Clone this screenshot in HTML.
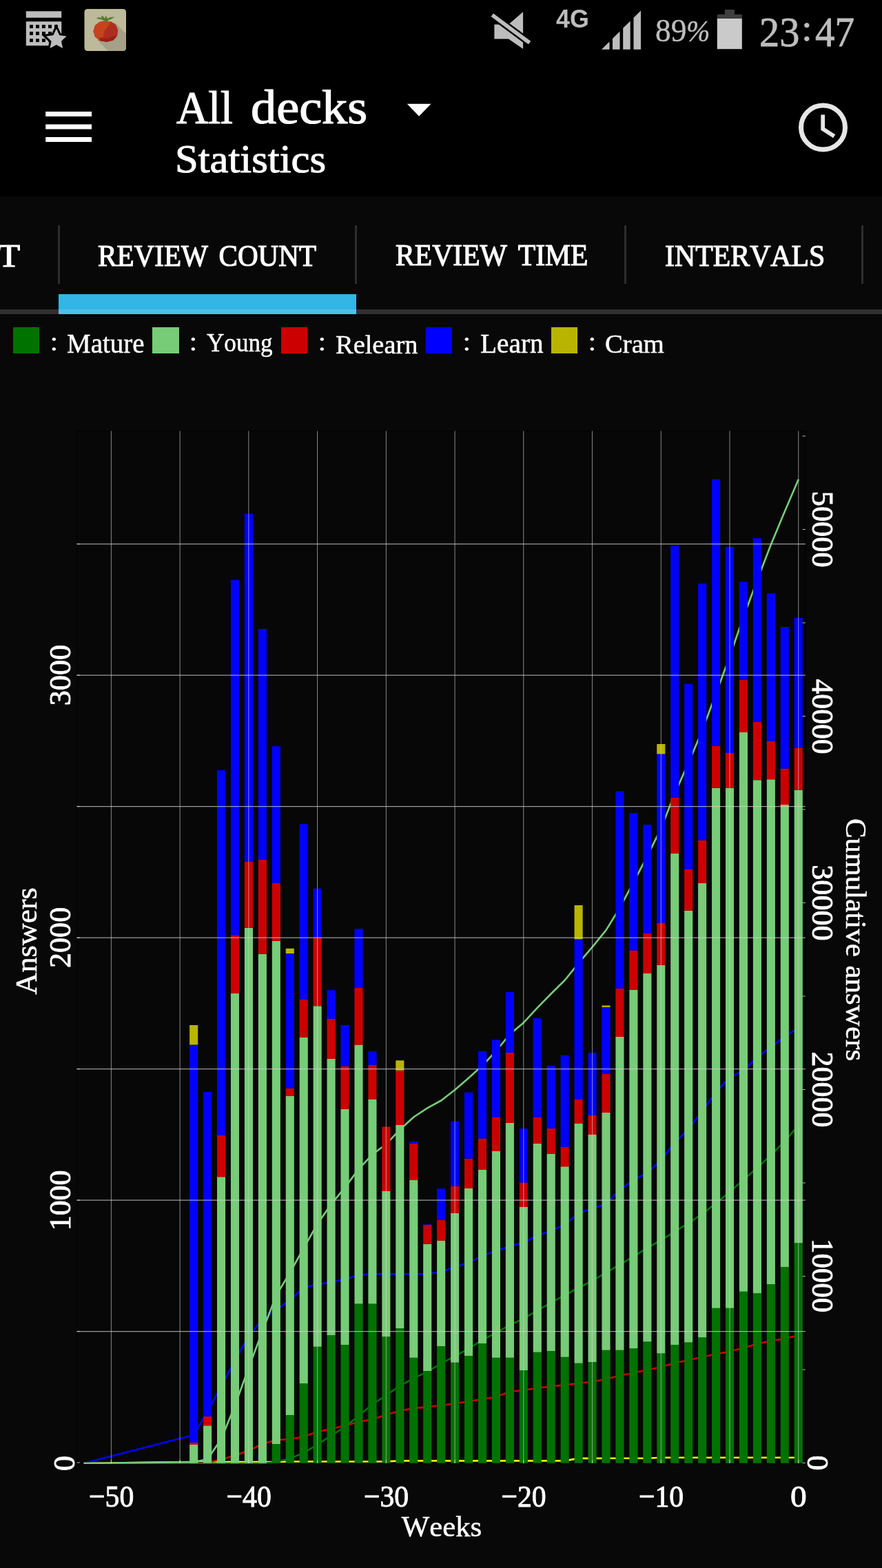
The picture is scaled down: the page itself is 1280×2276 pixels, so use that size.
<!DOCTYPE html>
<html lang="en">
<head>
<meta charset="utf-8">
<meta name="viewport" content="width=1280">
<title>AnkiDroid - Statistics - Review count</title>
<style>
*{margin:0;padding:0;box-sizing:border-box}
html,body{width:1280px;height:2276px;background:#080808;overflow:hidden}
body{position:relative;font-family:"Liberation Serif",serif;font-size:16px;color:#fff;font-kerning:none;font-variant-ligatures:none}
.t{position:absolute;line-height:1;white-space:pre;transform-origin:0 0;display:block}
.status{position:absolute;left:0;top:0;width:1280px;height:96px;background:#000}
.appbar{position:absolute;left:0;top:0;width:1280px;height:285px;background:#000}
.status{background:transparent;z-index:2}
.ico{position:absolute;left:0;top:0;display:block}
.appbar .ico{top:96px}
.tabs{position:absolute;left:0;top:0;width:1280px;height:456px;overflow:hidden}
.tabs .sep{position:absolute;top:327px;width:3px;height:85px;background:#2d2d2d}
.tabs .line{position:absolute;left:0;top:449px;width:1280px;height:7px;background:#303030}
.tabs .ind{position:absolute;left:85px;top:427px;width:432px;height:29px;background:linear-gradient(#33b5e5 0,#33b5e5 22px,#50bfe8 22px)}
.legend{position:absolute;left:0;top:0;width:1280px;height:0;list-style:none}
h1,h2{font:inherit}
.legend .sw{position:absolute;top:474.5px;width:38.3px;height:38.5px}
.chart{position:absolute;left:0;top:600px;display:block}
</style>
</head>
<body>
<nav class="tabs">
<i class="sep" style="left:84px"></i>
<i class="sep" style="left:515px"></i>
<i class="sep" style="left:906.2px"></i>
<i class="sep" style="left:1250px"></i>
<i class="line"></i><i class="ind"></i>
<span class="t" style="left:-239.92px;top:348.62px;font-size:45.54px;transform:scaleX(1.1561);-webkit-text-stroke:1.2px #fff">FORECAST</span>
<span class="t" style="left:142.42px;top:348.68px;font-size:45.18px;transform:scaleX(0.9102);word-spacing:0.13em;-webkit-text-stroke:1.2px #fff">REVIEW COUNT</span>
<span class="t" style="left:573.9px;top:348.34px;font-size:45.23px;transform:scaleX(0.921);word-spacing:0.13em;-webkit-text-stroke:1.2px #fff">REVIEW TIME</span>
<span class="t" style="left:964.59px;top:348.68px;font-size:45.18px;transform:scaleX(0.9259);-webkit-text-stroke:1.2px #fff">INTERVALS</span>
</nav>
<div class="appbar">
<svg class="ico" width="1280" height="188" viewBox="0 96 1280 188">
<path d="M66.2 162h66.8v7h-66.8z M66.2 180.5h66.8v7h-66.8z M66.2 199h66.8v7h-66.8z" fill="#fff"/>
<path d="M590.8 150.8h34.7l-17.35 18z" fill="#fff"/>
<circle cx="1194.5" cy="185" r="32" fill="none" stroke="#e6e6e6" stroke-width="7"/>
<path d="M1194.2 166.5v20.7l16.5 10.5" fill="none" stroke="#e6e6e6" stroke-width="5.8" stroke-linejoin="miter"/>
</svg>
<h1 class="title"><span class="t" style="left:256.27px;top:122.27px;font-size:68.46px;transform:scaleX(0.9363);-webkit-text-stroke:1.2px #fff">All</span> <span class="t" style="left:363.92px;top:121.32px;font-size:69.5px;transform:scaleX(1.0691);-webkit-text-stroke:1.2px #fff">decks</span></h1>
<h2 class="subtitle"><span class="t" style="left:253.94px;top:201.82px;font-size:58.05px;transform:scaleX(1.045);-webkit-text-stroke:1px #fff">Statistics</span></h2>
</div>
<div class="status">
<svg class="ico" width="1280" height="96" viewBox="0 0 1280 96">
<!-- calendar/star notification -->
<g fill="#bdbdbd">
<rect x="37.8" y="16.3" width="51.4" height="9.4"/>
<path fill-rule="evenodd" d="M37.8 31.2h51.4v35H37.8z M43 36.1h4.9v4.9h-4.9z M52 36.1h4.9v4.9h-4.9z M61 36.1h4.9v4.9h-4.9z M70 36.1h4.9v4.9h-4.9z M79 36.1h4.9v4.9h-4.9z M43 46.1h4.9v4.9h-4.9z M52 46.1h4.9v4.9h-4.9z M61 46.1h4.9v4.9h-4.9z M70 46.1h4.9v4.9h-4.9z M79 46.1h4.9v4.9h-4.9z M43 56.2h4.9v4.9h-4.9z M52 56.2h4.9v4.9h-4.9z M61 56.2h4.9v4.9h-4.9z M70 56.2h4.9v4.9h-4.9z M79 56.2h4.9v4.9h-4.9z"/>
</g>
<path d="M81.8 41.8L86.3 51.3L96.6 52.6L89 59.7L91 70L81.8 65L72.6 70L74.6 59.7L67 52.6L77.3 51.3z" fill="#bdbdbd" stroke="#000" stroke-width="6" stroke-linejoin="miter" paint-order="stroke"/>
<!-- tomato app icon -->
<rect x="122.5" y="13" width="60.5" height="61" rx="4.5" fill="#bdb99b"/>
<path d="M141 58 L166 32 L183 49 V69.5 a4.5 4.5 0 0 1 -4.5 4.5 H157z" fill="#a5a188"/>
<g transform="translate(171.2 0) scale(1.07 1) translate(-171.2 0)"><path d="M152 30.3l9.5 1 6.5 4.5 3.2 8-1.2 8.5-5.5 6.2-9 2.2-9.3-1.8-6.4-5.6-2.2-8.3 2.4-8.2 6-5z" fill="#c5431d"/>
<path d="M161.5 31.3l6.5 4.5 3.2 8-1.2 8.5-5.5 6.2-9 2.2-4.5-6.2 2-10 6-8z" fill="#ad2d1f"/>
<path d="M147 54.5l8 1.5 9.5-3 5.5-.5-5.5 6.2-9 2.2-9.3-1.8z" fill="#991f16"/></g>
<path d="M139.5 26.7l4.5-1.7 3.5 1.5-.5-4 3 1.5 2 3 1.5-4.5 2.5 4.5 4-2 6.5-.5-5 3-4.5 2-2.5 4.5-3-4-4-1.5z" fill="#4f7f2a"/>
<!-- mute -->
<path d="M717.4 35.6h20.6l21.1-18.3v53.6l-21.1-14.3h-20.6z" fill="#bdbdbd"/>
<path d="M712.5 20.5l58 43" stroke="#000" stroke-width="10.4" fill="none"/>
<path d="M714.3 21.85l54.3 40.25" stroke="#bdbdbd" stroke-width="5.6" fill="none"/>
<!-- signal -->
<path d="M873 71.8l11.5-11.4v11.4z M889 55.9l10.5-10.4v26.3h-10.5z M904.2 40.8l10.5-10.4v41.4h-10.5z M919.5 25.8l10.5-10.4v56.4h-10.5z" fill="#bdbdbd"/>
<!-- battery -->
<path d="M1051.8 14h14.2v7h10.8v6h-36v-6h11z" fill="#3e3e3e"/>
<rect x="1040.8" y="27" width="36" height="44.2" fill="#cacaca"/>
</svg>
<div class="net"><span class="t" style="left:807.46px;top:8.94px;font-size:37.43px;transform:scaleX(0.9566);font-weight:700;font-family:'Liberation Sans',sans-serif;color:#bdbdbd">4G</span></div>
<div class="battery"><span class="t" style="left:951.27px;top:21.43px;font-size:46.83px;transform:scaleX(0.9693);color:#bdbdbd;-webkit-text-stroke:0.4px #bdbdbd">89</span><span class="t" style="left:996.14px;top:23.12px;font-size:44.53px;transform:scaleX(0.928);font-style:italic;color:#bdbdbd;-webkit-text-stroke:0.4px #bdbdbd">%</span></div>
<div class="clock"><span class="t" style="left:1101.53px;top:15.29px;font-size:62.21px;transform:scaleX(0.9395);color:#bdbdbd;-webkit-text-stroke:0.8px #bdbdbd">23</span><span class="t" style="left:1162.9px;top:12.56px;font-size:55.23px;transform:scaleX(1.0308);color:#bdbdbd;-webkit-text-stroke:0.6px #bdbdbd">:</span><span class="t" style="left:1183.29px;top:16.26px;font-size:61.08px;transform:scaleX(0.9325);color:#bdbdbd;-webkit-text-stroke:0.8px #bdbdbd">47</span></div>
</div>
<ul class="legend">
<li><i class="sw" style="left:18.75px;background:#007200"></i> <span class="t" style="left:71.57px;top:476.58px;font-size:39.72px;transform:scaleX(1.1553)">:</span> <span class="t" style="left:97.35px;top:480.04px;font-size:39.35px;transform:scaleX(0.9903);-webkit-text-stroke:0.45px #fff">Mature</span></li>
<li><i class="sw" style="left:221.25px;background:#77cc77"></i> <span class="t" style="left:274.07px;top:476.58px;font-size:39.72px;transform:scaleX(1.1553)">:</span> <span class="t" style="left:299.83px;top:480.48px;font-size:36.93px;transform:scaleX(0.9511);-webkit-text-stroke:0.45px #fff">Young</span></li>
<li><i class="sw" style="left:408px;background:#cc0000"></i> <span class="t" style="left:460.82px;top:476.58px;font-size:39.72px;transform:scaleX(1.1553)">:</span> <span class="t" style="left:487.12px;top:481.89px;font-size:37.17px;transform:scaleX(1.034);-webkit-text-stroke:0.45px #fff">Relearn</span></li>
<li><i class="sw" style="left:618px;background:#0000ff"></i> <span class="t" style="left:670.82px;top:476.58px;font-size:39.72px;transform:scaleX(1.1553)">:</span> <span class="t" style="left:696.59px;top:480.04px;font-size:39.35px;transform:scaleX(1.0004);-webkit-text-stroke:0.45px #fff">Learn</span></li>
<li><i class="sw" style="left:800px;background:#b8b400"></i> <span class="t" style="left:852.57px;top:476.58px;font-size:39.72px;transform:scaleX(1.1553)">:</span> <span class="t" style="left:878.14px;top:480.4px;font-size:38.92px;transform:scaleX(0.9945);-webkit-text-stroke:0.45px #fff">Cram</span></li>
</ul>
<svg class="chart" width="1280" height="1676" viewBox="0 600 1280 1676">
<defs><clipPath id="pc"><rect x="111.5" y="625.5" width="1057.5" height="1499.5"/></clipPath></defs>
<rect x="111.5" y="625.5" width="1057.5" height="1498.5" fill="#070707" stroke="#000" stroke-width="1"/>
<g clip-path="url(#pc)" fill="none" stroke-width="2.6" stroke-linejoin="round">
<path d="M121.6 2124 L281.2 2122 L301.1 2122 L321.1 2122 L341 2122 L361 2122 L380.9 2122 L400.8 2122 L420.8 2121.5 L440.7 2121.5 L460.7 2121.5 L480.6 2121.5 L500.6 2121.5 L520.5 2121.5 L540.5 2121.5 L560.4 2121.5 L580.3 2120.4 L600.3 2120.4 L620.2 2120.4 L640.2 2120.4 L660.1 2120.4 L680.1 2120.4 L700 2120.4 L720 2120.4 L739.9 2120.4 L759.9 2120.4 L779.8 2120.4 L799.7 2120.4 L819.7 2120.4 L839.6 2116.9 L859.6 2116.9 L879.5 2116.7 L899.5 2116.7 L919.4 2116.7 L939.4 2116.7 L959.3 2115.7 L979.2 2115.7 L999.2 2115.7 L1019.1 2115.7 L1039.1 2115.7 L1059 2115.7 L1079 2115.7 L1098.9 2115.7 L1118.9 2115.7 L1138.8 2115.7 L1158.8 2115.7" stroke="#ffff00"/>
<path d="M121.6 2124 L281.2 2082.9 L301.1 2049.4 L321.1 2011.7 L341 1975.1 L361 1939.2 L380.9 1915.3 L400.8 1901.2 L420.8 1887.3 L440.7 1869.2 L460.7 1864.1 L480.6 1861.2 L500.6 1856.9 L520.5 1850.8 L540.5 1849.4 L560.4 1849.4 L580.3 1849.4 L600.3 1849.2 L620.2 1849.2 L640.2 1846 L660.1 1839.3 L680.1 1832.4 L700 1823.4 L720 1815.4 L739.9 1809.1 L759.9 1803.6 L779.8 1793.3 L799.7 1786.8 L819.7 1777.4 L839.6 1760.9 L859.6 1754.4 L879.5 1747.5 L899.5 1727.1 L919.4 1713 L939.4 1701.8 L959.3 1684.4 L979.2 1658.3 L999.2 1639.2 L1019.1 1612.7 L1039.1 1585.2 L1059 1563.9 L1079 1553.8 L1098.9 1534.8 L1118.9 1519.6 L1138.8 1505 L1158.8 1491.5" stroke="#0000ff"/>
<path d="M121.6 2124 L281.2 2123.8 L301.1 2122.8 L321.1 2118.6 L341 2112.5 L361 2105.7 L380.9 2096 L400.8 2090 L420.8 2089.2 L440.7 2085.2 L460.7 2078.2 L480.6 2074.1 L500.6 2069.6 L520.5 2063.8 L540.5 2060.2 L560.4 2053.6 L580.3 2047.9 L600.3 2044.1 L620.2 2042.1 L640.2 2040 L660.1 2037.2 L680.1 2034.2 L700 2030.9 L720 2027.5 L739.9 2020.2 L759.9 2017.7 L779.8 2015 L799.7 2012.4 L819.7 2010.4 L839.6 2007.8 L859.6 2005.8 L879.5 2001.8 L899.5 1996.8 L919.4 1992.7 L939.4 1988.6 L959.3 1984.2 L979.2 1978.5 L999.2 1974.2 L1019.1 1969.8 L1039.1 1965.4 L1059 1961.8 L1079 1956.4 L1098.9 1950.4 L1118.9 1946.4 L1138.8 1942.7 L1158.8 1938.4" stroke="#cc0000"/>
<path d="M121.6 2124 L281.2 2124 L301.1 2124 L321.1 2124 L341 2124 L361 2124 L380.9 2124 L400.8 2122 L420.8 2117.1 L440.7 2108.8 L460.7 2096.8 L480.6 2083.6 L500.6 2071.4 L520.5 2054.9 L540.5 2038.5 L560.4 2025.4 L580.3 2011.5 L600.3 2000.6 L620.2 1991.1 L640.2 1979 L660.1 1968.6 L680.1 1957.5 L700 1945.2 L720 1934.3 L739.9 1923.4 L759.9 1913.8 L779.8 1902.3 L799.7 1890.8 L819.7 1879.8 L839.6 1869.5 L859.6 1859 L879.5 1847.4 L899.5 1835.7 L919.4 1823.9 L939.4 1811.3 L959.3 1800 L979.2 1787.8 L999.2 1775.3 L1019.1 1762.3 L1039.1 1746.3 L1059 1730.3 L1079 1712.6 L1098.9 1695.1 L1118.9 1676.6 L1138.8 1656.3 L1158.8 1633.6" stroke="#007200"/>
<path d="M121.6 2124 L281.2 2122.1 L301.1 2118.2 L321.1 2088.7 L341 2040.1 L361 1984.9 L380.9 1932.3 L400.8 1880.4 L420.8 1847.4 L440.7 1811.7 L460.7 1776.6 L480.6 1748 L500.6 1723.7 L520.5 1696.9 L540.5 1675.8 L560.4 1660.8 L580.3 1639.8 L600.3 1621.5 L620.2 1608.4 L640.2 1597.5 L660.1 1582 L680.1 1564.7 L700 1546.8 L720 1525.5 L739.9 1501.2 L759.9 1484.4 L779.8 1462.8 L799.7 1442.5 L819.7 1422.8 L839.6 1398.1 L859.6 1374.6 L879.5 1350.1 L899.5 1317.7 L919.4 1280.7 L939.4 1242.7 L959.3 1202.6 L979.2 1151.9 L999.2 1107.3 L1019.1 1060.4 L1039.1 1006.7 L1059 953 L1079 895.3 L1098.9 842.3 L1118.9 790.2 L1138.8 742.4 L1158.8 695.7" stroke="#77cc77"/>
</g>
<path d="M394.79 2096h12.1v27.8h-12.1zM414.73 2054h12.1v69.8h-12.1zM434.68 2008h12.1v115.8h-12.1zM454.62 1954.75h12.1v169.05h-12.1zM474.57 1938h12.1v185.8h-12.1zM494.51 1952h12.1v171.8h-12.1zM514.46 1892.5h12.1v231.3h-12.1zM534.41 1892.5h12.1v231.3h-12.1zM554.35 1940.25h12.1v183.55h-12.1zM574.3 1928h12.1v195.8h-12.1zM594.24 1970.75h12.1v153.05h-12.1zM614.19 1990h12.1v133.8h-12.1zM634.13 1954h12.1v169.8h-12.1zM654.08 1977.75h12.1v146.05h-12.1zM674.02 1968h12.1v155.8h-12.1zM693.97 1950h12.1v173.8h-12.1zM713.91 1970.75h12.1v153.05h-12.1zM733.86 1970.75h12.1v153.05h-12.1zM753.8 1989h12.1v134.8h-12.1zM773.75 1962.75h12.1v161.05h-12.1zM793.69 1961h12.1v162.8h-12.1zM813.63 1969.75h12.1v154.05h-12.1zM833.58 1978.75h12.1v145.05h-12.1zM853.53 1977h12.1v146.8h-12.1zM873.47 1959.75h12.1v164.05h-12.1zM893.41 1959.75h12.1v164.05h-12.1zM913.36 1957.25h12.1v166.55h-12.1zM933.31 1947.5h12.1v176.3h-12.1zM953.25 1964.5h12.1v159.3h-12.1zM973.2 1952h12.1v171.8h-12.1zM993.14 1948.5h12.1v175.3h-12.1zM1013.09 1941.25h12.1v182.55h-12.1zM1033.03 1898.75h12.1v225.05h-12.1zM1052.98 1898.75h12.1v225.05h-12.1zM1072.92 1874.75h12.1v249.05h-12.1zM1092.87 1877.25h12.1v246.55h-12.1zM1112.81 1864h12.1v259.8h-12.1zM1132.76 1839h12.1v284.8h-12.1zM1152.7 1804.25h12.1v319.55h-12.1z" fill="#007200"/>
<path d="M275.12 2097h12.1v26.8h-12.1zM295.06 2069.25h12.1v54.55h-12.1zM315.01 1708.25h12.1v415.55h-12.1zM334.95 1441.75h12.1v682.05h-12.1zM354.9 1346.75h12.1v777.05h-12.1zM374.84 1384.75h12.1v739.05h-12.1zM394.79 1366h12.1v730h-12.1zM414.73 1591h12.1v463h-12.1zM434.68 1505.75h12.1v502.25h-12.1zM454.62 1460.25h12.1v494.5h-12.1zM474.57 1537h12.1v401h-12.1zM494.51 1609.75h12.1v342.25h-12.1zM514.46 1516.5h12.1v376h-12.1zM534.41 1595.5h12.1v297h-12.1zM554.35 1729h12.1v211.25h-12.1zM574.3 1633h12.1v295h-12.1zM594.24 1713h12.1v257.75h-12.1zM614.19 1805.75h12.1v184.25h-12.1zM634.13 1800.75h12.1v153.25h-12.1zM654.08 1760.75h12.1v217h-12.1zM674.02 1725h12.1v243h-12.1zM693.97 1697.75h12.1v252.25h-12.1zM713.91 1671h12.1v299.75h-12.1zM733.86 1630h12.1v340.75h-12.1zM753.8 1752h12.1v237h-12.1zM773.75 1659.75h12.1v303h-12.1zM793.69 1674.75h12.1v286.25h-12.1zM813.63 1693.25h12.1v276.5h-12.1zM833.58 1631h12.1v347.75h-12.1zM853.53 1647h12.1v330h-12.1zM873.47 1615h12.1v344.75h-12.1zM893.41 1505h12.1v454.75h-12.1zM913.36 1437h12.1v520.25h-12.1zM933.31 1413h12.1v534.5h-12.1zM953.25 1400.75h12.1v563.75h-12.1zM973.2 1239h12.1v713h-12.1zM993.14 1321.75h12.1v626.75h-12.1zM1013.09 1281.75h12.1v659.5h-12.1zM1033.03 1143.75h12.1v755h-12.1zM1052.98 1143.75h12.1v755h-12.1zM1072.92 1063h12.1v811.75h-12.1zM1092.87 1132.25h12.1v745h-12.1zM1112.81 1131.25h12.1v732.75h-12.1zM1132.76 1168h12.1v671h-12.1zM1152.7 1146.75h12.1v657.5h-12.1z" fill="#77cc77"/>
<path d="M275.12 2094h12.1v3h-12.1zM295.06 2056h12.1v13.25h-12.1zM315.01 1648h12.1v60.25h-12.1zM334.95 1357.25h12.1v84.5h-12.1zM354.9 1250.5h12.1v96.25h-12.1zM374.84 1248h12.1v136.75h-12.1zM394.79 1281.75h12.1v84.25h-12.1zM414.73 1579.5h12.1v11.5h-12.1zM434.68 1450.5h12.1v55.25h-12.1zM454.62 1361.25h12.1v99h-12.1zM474.57 1479h12.1v58h-12.1zM494.51 1547.5h12.1v62.25h-12.1zM514.46 1433.75h12.1v82.75h-12.1zM534.41 1545.75h12.1v49.75h-12.1zM554.35 1635.5h12.1v93.5h-12.1zM574.3 1553.75h12.1v79.25h-12.1zM594.24 1659.75h12.1v53.25h-12.1zM614.19 1777.75h12.1v28h-12.1zM634.13 1770.75h12.1v30h-12.1zM654.08 1721.75h12.1v39h-12.1zM674.02 1681.75h12.1v43.25h-12.1zM693.97 1652.5h12.1v45.25h-12.1zM713.91 1622h12.1v49h-12.1zM733.86 1528h12.1v102h-12.1zM753.8 1716.5h12.1v35.5h-12.1zM773.75 1622h12.1v37.75h-12.1zM793.69 1638h12.1v36.75h-12.1zM813.63 1664.75h12.1v28.5h-12.1zM833.58 1595.5h12.1v35.5h-12.1zM853.53 1618.75h12.1v28.25h-12.1zM873.47 1559h12.1v56h-12.1zM893.41 1434.75h12.1v70.25h-12.1zM913.36 1379.5h12.1v57.5h-12.1zM933.31 1354.5h12.1v58.5h-12.1zM953.25 1339.5h12.1v61.25h-12.1zM973.2 1158h12.1v81h-12.1zM993.14 1261.75h12.1v60h-12.1zM1013.09 1219.5h12.1v62.25h-12.1zM1033.03 1082.5h12.1v61.25h-12.1zM1052.98 1093h12.1v50.75h-12.1zM1072.92 986.75h12.1v76.25h-12.1zM1092.87 1048h12.1v84.25h-12.1zM1112.81 1075.5h12.1v55.75h-12.1zM1132.76 1115.5h12.1v52.5h-12.1zM1152.7 1086h12.1v60.75h-12.1z" fill="#cc0000"/>
<path d="M275.12 1516.5h12.1v577.5h-12.1zM295.06 1585h12.1v471h-12.1zM315.01 1118h12.1v530h-12.1zM334.95 841.75h12.1v515.5h-12.1zM354.9 745.75h12.1v504.75h-12.1zM374.84 913h12.1v335h-12.1zM394.79 1083.25h12.1v198.5h-12.1zM414.73 1384h12.1v195.5h-12.1zM434.68 1196.25h12.1v254.25h-12.1zM454.62 1289.75h12.1v71.5h-12.1zM474.57 1437.25h12.1v41.75h-12.1zM494.51 1488h12.1v59.5h-12.1zM514.46 1348.25h12.1v85.5h-12.1zM534.41 1526h12.1v19.75h-12.1zM594.24 1657h12.1v2.75h-12.1zM614.19 1777h12.1v0.75h-12.1zM634.13 1725.25h12.1v45.5h-12.1zM654.08 1627.5h12.1v94.25h-12.1zM674.02 1585.75h12.1v96h-12.1zM693.97 1526h12.1v126.5h-12.1zM713.91 1509.25h12.1v112.75h-12.1zM733.86 1440h12.1v88h-12.1zM753.8 1638h12.1v78.5h-12.1zM773.75 1478h12.1v144h-12.1zM793.69 1546.75h12.1v91.25h-12.1zM813.63 1531.75h12.1v133h-12.1zM833.58 1363.25h12.1v232.25h-12.1zM853.53 1528h12.1v90.75h-12.1zM873.47 1462h12.1v97h-12.1zM893.41 1148.5h12.1v286.25h-12.1zM913.36 1180.25h12.1v199.25h-12.1zM933.31 1197.25h12.1v157.25h-12.1zM953.25 1094.5h12.1v245h-12.1zM973.2 792h12.1v366h-12.1zM993.14 993h12.1v268.75h-12.1zM1013.09 847h12.1v372.5h-12.1zM1033.03 695.75h12.1v386.75h-12.1zM1052.98 793.75h12.1v299.25h-12.1zM1072.92 844.5h12.1v142.25h-12.1zM1092.87 781.25h12.1v266.75h-12.1zM1112.81 861.25h12.1v214.25h-12.1zM1132.76 910h12.1v205.5h-12.1zM1152.7 897h12.1v189h-12.1z" fill="#0000ff"/>
<path d="M275.12 1488h12.1v28.5h-12.1zM414.73 1376.75h12.1v7.25h-12.1zM574.3 1539.25h12.1v14.5h-12.1zM833.58 1314h12.1v49.25h-12.1zM873.47 1459.5h12.1v2.5h-12.1zM953.25 1080h12.1v14.5h-12.1z" fill="#b8b400"/>
<path d="M161.4 625.5V2124M261.13 625.5V2124M360.87 625.5V2124M460.61 625.5V2124M560.34 625.5V2124M660.08 625.5V2124M759.81 625.5V2124M859.54 625.5V2124M959.28 625.5V2124M1059.02 625.5V2124M1158.75 625.5V2124" stroke="#d2d2d2" stroke-opacity="0.64" stroke-width="1" fill="none"/>
<path d="M111.5 1932.6H1169M111.5 1742.1H1169M111.5 1551.6H1169M111.5 1361.1H1169M111.5 1170.6H1169M111.5 980.1H1169M111.5 789.6H1169" stroke="#d2d2d2" stroke-opacity="0.72" stroke-width="1.2" fill="none"/>
<path d="M111.5 2123.1h4.5M111.5 1932.6h4.5M111.5 1742.1h4.5M111.5 1551.6h4.5M111.5 1361.1h4.5M111.5 1170.6h4.5M111.5 980.1h4.5M111.5 789.6h4.5M1169 2123.5h-4.5M1169 1988h-4.5M1169 1852.5h-4.5M1169 1717h-4.5M1169 1581.5h-4.5M1169 1446h-4.5M1169 1310.5h-4.5M1169 1175h-4.5M1169 1039.5h-4.5M1169 904h-4.5M1169 768.5h-4.5M1169 633h-4.5M161.4 2119V2124M261.13 2119V2124M360.87 2119V2124M460.61 2119V2124M560.34 2119V2124M660.08 2119V2124M759.81 2119V2124M859.54 2119V2124M959.28 2119V2124M1059.02 2119V2124M1158.75 2119V2124" stroke="#e0e0e0" stroke-opacity="0.8" stroke-width="1" fill="none"/>
<g fill="#fff" font-family="'Liberation Serif',serif" style="font-kerning:none">
<text transform="translate(129.02 2187.36) scale(0.9279 1)" font-size="44.98" stroke="#fff" stroke-width="0.9">−50</text>
<text transform="translate(328.49 2187.36) scale(0.9279 1)" font-size="44.98" stroke="#fff" stroke-width="0.9">−40</text>
<text transform="translate(527.96 2187.36) scale(0.9279 1)" font-size="44.98" stroke="#fff" stroke-width="0.9">−30</text>
<text transform="translate(727.43 2187.36) scale(0.9279 1)" font-size="44.98" stroke="#fff" stroke-width="0.9">−20</text>
<text transform="translate(926.9 2187.36) scale(0.9279 1)" font-size="44.98" stroke="#fff" stroke-width="0.9">−10</text>
<text transform="translate(1146.89 2187.36) scale(1.0544 1)" font-size="44.98" stroke="#fff" stroke-width="0.9">0</text>
<text transform="translate(582.71 2229.6) scale(0.9961 1)" font-size="43.02" stroke="#fff" stroke-width="0.5">Weeks</text>
<text transform="translate(72.35 1782.35) rotate(-90) translate(-3.85 29.96) scale(0.9713 1)" font-size="45.05" stroke="#fff" stroke-width="0.9">1000</text>
<text transform="translate(72.35 1403.15) rotate(-90) translate(-1.94 29.96) scale(0.9803 1)" font-size="45.05" stroke="#fff" stroke-width="0.9">2000</text>
<text transform="translate(72.35 1022.15) rotate(-90) translate(-2.12 29.96) scale(0.9823 1)" font-size="45.05" stroke="#fff" stroke-width="0.9">3000</text>
<text transform="translate(79.2 2133.3) rotate(-90) translate(-1.67 29.17) scale(1.0005 1)" font-size="43.86" stroke="#fff" stroke-width="0.9">0</text>
<text transform="translate(23.45 1443.25) rotate(-90) translate(-0.43 29.86) scale(0.982 1)" font-size="45.23" stroke="#fff" stroke-width="0.5">Answers</text>
<text transform="translate(1209.45 1801.8) rotate(90) translate(-3.77 29.96) scale(0.9509 1)" font-size="45.05" stroke="#fff" stroke-width="0.9">10000</text>
<text transform="translate(1209.45 1528.35) rotate(90) translate(-1.94 29.96) scale(0.9786 1)" font-size="45.05" stroke="#fff" stroke-width="0.9">20000</text>
<text transform="translate(1209.45 1257.35) rotate(90) translate(-2.11 29.96) scale(0.9802 1)" font-size="45.05" stroke="#fff" stroke-width="0.9">30000</text>
<text transform="translate(1209.45 986.35) rotate(90) translate(-0.85 29.96) scale(0.9688 1)" font-size="45.05" stroke="#fff" stroke-width="0.9">40000</text>
<text transform="translate(1209.45 715.35) rotate(90) translate(-2.58 29.96) scale(0.9844 1)" font-size="45.05" stroke="#fff" stroke-width="0.9">50000</text>
<text transform="translate(1200.8 2114.2) rotate(90) translate(-1.67 29.17) scale(1.0005 1)" font-size="43.86" stroke="#fff" stroke-width="0.9">0</text>
<text transform="translate(1257.95 1189.65) rotate(90) translate(-1.77 29.98) scale(0.9975 1)" font-size="43.21" word-spacing="0.04em" stroke="#fff" stroke-width="0.5">Cumulative answers</text>
</g>
</svg>
</body>
</html>
